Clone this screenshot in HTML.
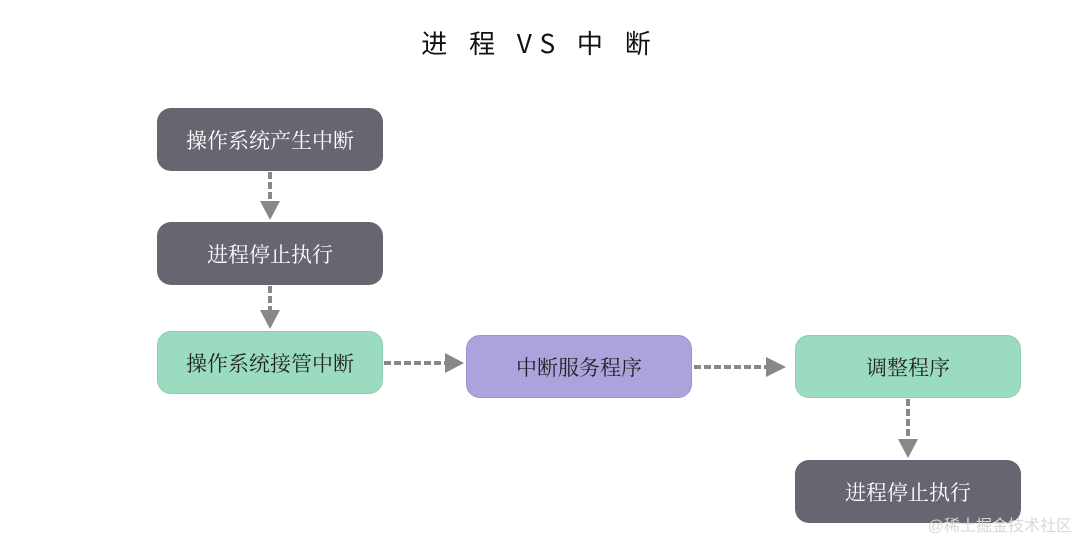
<!DOCTYPE html>
<html><head><meta charset="utf-8"><style>
body{margin:0;width:1080px;height:542px;background:#fff;position:relative;overflow:hidden;font-family:"Liberation Serif","Noto Serif CJK SC",serif}
.b{position:absolute;width:226px;height:63px;border-radius:14px;display:flex;align-items:center;justify-content:center;font-size:21px;box-sizing:border-box}
.d{background:#67656f;color:#fff}
.g{background:#9bdcc1;color:#222;border:1px solid #8ccfb2}
.p{background:#ada3dc;color:#222;border:1px solid #9d93cf}
.t{position:absolute;left:0;width:1080px;top:24px;text-align:center;font-family:"Noto Sans CJK SC",sans-serif;font-size:26px;letter-spacing:8px;color:#111}
.w{position:absolute;right:8px;bottom:6px;color:#d8d8d8;font-size:16px;font-family:"Liberation Sans","Noto Sans CJK SC",sans-serif}
</style></head><body>
<div class="t" style="left:0">进 程 VS 中 断</div>
<div class="b d" style="left:157px;top:108px">操作系统产生中断</div>
<div class="b d" style="left:157px;top:222px">进程停止执行</div>
<div class="b g" style="left:157px;top:331px">操作系统接管中断</div>
<div class="b p" style="left:466px;top:335px">中断服务程序</div>
<div class="b g" style="left:795px;top:335px">调整程序</div>
<div class="b d" style="left:795px;top:460px">进程停止执行</div>
<svg width="1080" height="542" style="position:absolute;left:0;top:0" fill="#888" stroke="#888">
<g stroke-width="4" stroke-dasharray="7,3" fill="none">
<line x1="270" y1="172" x2="270" y2="203"/>
<line x1="270" y1="286" x2="270" y2="312"/>
<line x1="384" y1="363" x2="447" y2="363"/>
<line x1="694" y1="367" x2="768" y2="367"/>
<line x1="908" y1="399" x2="908" y2="441"/>
</g>
<g stroke="none">
<polygon points="260,201 280,201 270,220"/>
<polygon points="260,310 280,310 270,329"/>
<polygon points="445,353 445,373 464,363"/>
<polygon points="766,357 766,377 786,367"/>
<polygon points="898,439 918,439 908,458"/>
</g>
</svg>
<div class="w">@稀土掘金技术社区</div>
</body></html>
